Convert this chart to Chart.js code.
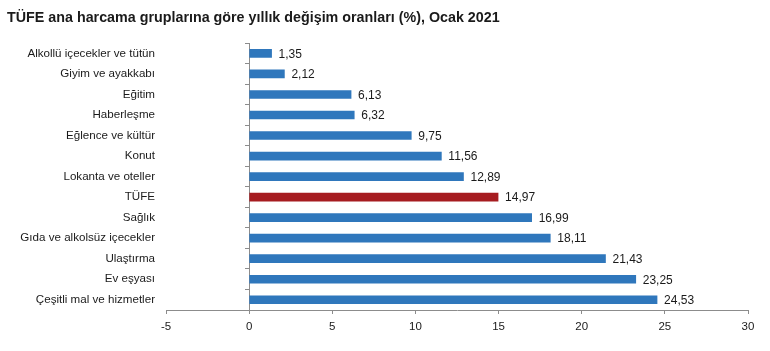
<!DOCTYPE html>
<html>
<head>
<meta charset="utf-8">
<script src="https://cdn.jsdelivr.net/npm/chart.js@4/dist/chart.umd.min.js"></script>
<style>
  html, body { margin: 0; padding: 0; background: #fff; }
  #wrap { width: 770px; height: 351px; }
</style>
</head>
<body>
<div id="wrap"><canvas id="chart-tufe"></canvas></div>
<script>
// TÜFE ana harcama grupları, Ocak 2021
var categories = [
    "Alkollü içecekler ve tütün",
    "Giyim ve ayakkabı",
    "Eğitim",
    "Haberleşme",
    "Eğlence ve kültür",
    "Konut",
    "Lokanta ve oteller",
    "TÜFE",
    "Sağlık",
    "Gıda ve alkolsüz içecekler",
    "Ulaştırma",
    "Ev eşyası",
    "Çeşitli mal ve hizmetler"
];
var values = [1.35, 2.12, 6.13, 6.32, 9.75, 11.56, 12.89, 14.97, 16.99, 18.11, 21.43, 23.25, 24.53];
var xTicks = [-5, 0, 5, 10, 15, 20, 25, 30];

var blue = "#2F77BC";
var red = "#A61C20";
var axisGrey = "#8C8C8C";

Chart.defaults.font.family = "'Liberation Sans', Arial, sans-serif";
Chart.defaults.color = "#1a1a1a";

// value labels at the end of each bar
var barLabels = {
    id: 'barLabels',
    afterDatasetsDraw: function (chart) {
        var ctx = chart.ctx;
        var meta = chart.getDatasetMeta(0);
        ctx.save();
        ctx.font = "12px 'Liberation Sans', Arial, sans-serif";
        ctx.fillStyle = "#1a1a1a";
        ctx.textAlign = "left";
        ctx.textBaseline = "middle";
        meta.data.forEach(function (bar, i) {
            ctx.fillText(values[i].toFixed(2).replace('.', ','), bar.x + 7, bar.y + 1);
        });
        ctx.restore();
    }
};

new Chart('chart-tufe', {
    type: 'bar',
    plugins: [barLabels],
    data: {
        labels: categories,
        datasets: [{
            data: values,
            backgroundColor: categories.map(function (c) { return c === "TÜFE" ? red : blue; }),
            barThickness: 8,
            borderWidth: 0
        }]
    },
    options: {
        indexAxis: 'y',
        responsive: true,
        maintainAspectRatio: false,
        animation: false,
        layout: { padding: { left: 7, right: 22, top: 0, bottom: 0 } },
        plugins: {
            legend: { display: false },
            tooltip: { enabled: false },
            title: {
                display: true,
                text: "TÜFE ana harcama gruplarına göre yıllık değişim oranları (%), Ocak 2021",
                align: 'start',
                color: "#1a1a1a",
                font: { size: 14.3, weight: 'bold' },
                padding: { top: 9, bottom: 17 }
            }
        },
        scales: {
            x: {
                min: -5,
                max: 30,
                afterBuildTicks: function (scale) {
                    scale.ticks = xTicks.map(function (v) { return { value: v }; });
                },
                afterFit: function (scale) { scale.height = 41; },
                border: { display: true, color: axisGrey, width: 1 },
                grid: { drawOnChartArea: false, drawTicks: true, tickLength: 4, color: axisGrey },
                ticks: { padding: 6, font: { size: 11.5 }, color: "#1a1a1a" }
            },
            y: {
                afterFit: function (scale) { scale.width = 159; },
                border: { display: false },
                grid: { display: false, drawTicks: false },
                ticks: { padding: 11, font: { size: 11.6 }, color: "#1a1a1a" }
            },
            yZero: {
                type: 'category',
                axis: 'y',
                labels: categories,
                offset: true,
                position: { x: 0 },
                border: { display: true, color: axisGrey, width: 1 },
                grid: { drawOnChartArea: false, drawTicks: true, tickLength: 4, color: axisGrey, offset: true },
                ticks: { display: false }
            }
        }
    }
});
</script>
</body>
</html>
